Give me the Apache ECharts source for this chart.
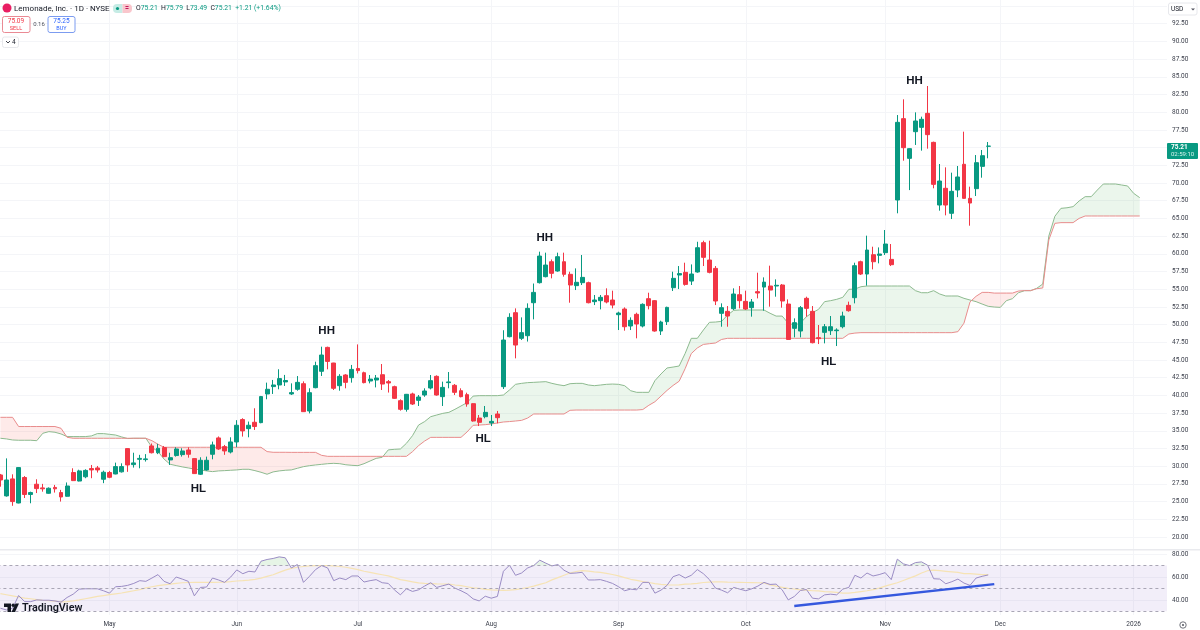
<!DOCTYPE html>
<html>
<head>
<meta charset="utf-8">
<title>Lemonade, Inc.</title>
<script src="https://cdn.jsdelivr.net/npm/echarts@6/dist/echarts.min.js"></script>
<style>
html, body { margin: 0; padding: 0; background: #fff; }
#Chart { width: 1200px; height: 630px; }
</style>
</head>
<body>
<div id="Chart"></div>
<script>
var monthStart = [18, 39, 59, 81, 102, 123, 146, 165, 187];
var monthLabels = ['May', 'Jun', 'Jul', 'Aug', 'Sep', 'Oct', 'Nov', 'Dec', '2026'];

var priceTicks = [20, 22.5, 25, 27.5, 30, 32.5, 35, 37.5, 40, 42.5, 45, 47.5, 50, 52.5, 55, 57.5, 60, 62.5, 65, 67.5, 70, 72.5, 75, 77.5, 80, 82.5, 85, 87.5, 90, 92.5, 95];
var priceLabels = [20, 22.5, 25, 27.5, 30, 32.5, 35, 37.5, 40, 42.5, 45, 47.5, 50, 52.5, 55, 57.5, 60, 62.5, 65, 67.5, 70, 72.5, 77.5, 80, 82.5, 85, 87.5, 90, 92.5];
var rsiTicks = [40, 60, 80];
var rsiLevels = [70, 50, 30];

var opens = [
    28.76, 25.8, 28.2, 24.8, 28.4, 26, 27.45, 26.93, 26.17, 27,
    26.27, 25.75, 29.1, 27.9, 28.5, 29.66, 29.75, 28.15, 29.1, 28.9,
    29.2, 32.48, 30.22, 30.97, 30.93, 32.86, 31.9, 32.62, 30.88, 31.5,
    31.63, 32.29, 31.07, 28.86, 29.47, 31.68, 33.99, 32.76, 32, 33.42,
    36.58, 35.3, 36.2, 36.15, 40.2, 41.24, 41.47, 41.9, 40.2, 40.86,
    41.65, 37.8, 41.09, 43.4, 46.78, 44.57, 41.37, 42.88, 42.5, 43.8,
    43.2, 42.03, 42.17, 42.92, 41.94, 41.23, 39.25, 38.03, 40.2, 39.3,
    40.05, 41.04, 42.69, 39.82, 41.8, 41.42, 40.66, 40.1, 38.83, 36.8,
    36.99, 36.1, 37.37, 41.23, 48.29, 51.68, 48.06, 48.43, 53.09, 55.92,
    56.77, 58.88, 57.57, 58.88, 57.1, 55.5, 55.92, 55.92, 53.24, 53.38,
    54.08, 53.47, 51.4, 52.2, 49.8, 51.45, 49.8, 53.66, 53.38, 49.09,
    50.41, 55.21, 57, 57.38, 56.15, 57.43, 61.57, 59.12, 57.94, 51.59,
    51.87, 52.24, 54.22, 53.28, 52.39, 54.65, 55.3, 55.45, 55.45, 55.59,
    52.9, 49.47, 49.09, 53.71, 51.87, 48.15, 48.9, 49.14, 49.14, 49.7,
    52.72, 53.8, 58.88, 57.14, 59.87, 59.78, 60.16, 59.21, 67.6, 79.09,
    73.48, 77.25, 77.86, 79.84, 75.74, 66.89, 69.25, 65.72, 69.01, 72.64,
    67.83, 69.2, 72.35, 75.19
];
var closes = [
    28.05, 28.05, 25, 29.8, 26, 26.27, 26.83, 26.8, 26.88, 26.8,
    25.65, 27.2, 27.96, 29.33, 29.4, 29.47, 29.47, 29.14, 28.43, 29.94,
    29.94, 30.17, 30.46, 31.1, 31.03, 31.9, 32.53, 31.35, 31.2, 32.43,
    32.15, 31.68, 28.95, 30.83, 30.83, 33, 32.43, 32.15, 33.42, 35.78,
    34.98, 35.78, 35.6, 39.83, 40.86, 41.47, 42.37, 42.1, 40.39, 41.84,
    37.7, 40.38, 44.2, 45.7, 44.8, 41, 42.69, 41.84, 43.67, 43.5,
    41.8, 42.3, 42.45, 41.6, 41.75, 39.58, 38.03, 40.15, 38.78, 39.77,
    40.62, 42.08, 40.05, 41.13, 41.9, 40.43, 39.82, 38.78, 36.38, 36.19,
    37.6, 36.33, 36.85, 47.82, 51.02, 47.11, 48.86, 52.29, 54.55, 59.68,
    58.41, 57.24, 59.59, 57.1, 55.59, 55.97, 56.67, 53.09, 53.47, 53.85,
    53.19, 52.76, 51.63, 49.7, 50.6, 50.08, 52.86, 52.67, 49.09, 50.36,
    52.43, 56.53, 57.2, 55.68, 57.14, 60.86, 59.5, 57.38, 53.33, 52.39,
    51.21, 54.32, 53.38, 52.2, 53.19, 54.46, 56, 54.88, 55.55, 53.33,
    47.9, 50.27, 52.39, 52.29, 47.44, 48.01, 49.7, 49.7, 49.23, 51.21,
    51.96, 58.32, 57.14, 60.53, 58.88, 59.97, 61.38, 58.46, 78.57, 74.99,
    74.85, 78.76, 79, 76.83, 69.81, 70.28, 66.89, 68.82, 70.85, 67.83,
    67.17, 72.87, 73.86, 75.21
];
var lows = [
    27.1, 25.7, 24.4, 24.75, 25.5, 24.76, 26.2, 26.4, 26.1, 26.27,
    25, 25.7, 27.9, 27.85, 28.3, 28.3, 29.1, 27.6, 28.3, 28.85,
    29.1, 29.2, 29.8, 29.7, 30.65, 31.8, 31.7, 31.26, 30.17, 31.35,
    31.35, 31.2, 28.9, 28.76, 29.37, 30.97, 32.3, 31.6, 31.8, 32.67,
    34.18, 34.08, 35.12, 36.06, 39.45, 40.2, 40.86, 41.33, 40.06, 40.66,
    37.65, 37.46, 41, 42.74, 43.68, 40.76, 40.66, 41, 41.8, 43.1,
    41.7, 41.7, 41.13, 40.76, 40.4, 39.5, 37.84, 37.7, 38.64, 38.5,
    39.8, 40.85, 39.96, 38.5, 41, 40.05, 39.72, 38.4, 36.29, 35.67,
    36.76, 35.67, 36.05, 40.9, 48.2, 45.23, 47.82, 47.6, 50.74, 55.8,
    56.67, 56.53, 57.47, 56.77, 53.09, 54.88, 55.59, 53, 52.76, 52.15,
    53, 52.29, 49.23, 49.14, 49.23, 48.06, 49.6, 52.15, 49, 48.53,
    49.94, 54.74, 55.02, 55.5, 55.59, 57.33, 58.27, 57.24, 52.76, 49.7,
    49.7, 52.06, 52.29, 52.06, 51.12, 53.7, 51.96, 52.53, 53.94, 52.39,
    47.85, 48.2, 48.2, 51.12, 47.35, 47.25, 47.35, 48.53, 46.97, 49.47,
    51.82, 53, 57, 55.5, 57.8, 58.65, 59.83, 58.27, 65.72, 73.15,
    69, 75.37, 74.57, 74.85, 69.25, 66.09, 65.43, 64.91, 68, 67.8,
    63.97, 68.16, 70.75, 73.49
];
var highs = [
    28.9, 31.1, 28.85, 29.85, 28.6, 26.4, 28.15, 27.5, 27, 27.35,
    26.65, 27.7, 29.7, 29.5, 29.56, 30.17, 30.03, 29.37, 29.33, 30.5,
    30.4, 32.5, 31.9, 31.6, 31.7, 33.2, 33.15, 32.85, 31.9, 32.67,
    32.53, 32.67, 31.1, 31.26, 31.35, 33.47, 34.2, 33, 34.08, 36.5,
    36.77, 36.3, 38.18, 39.92, 41.8, 42.18, 43.69, 42.89, 41.7, 42.73,
    41.98, 41, 44.76, 46.88, 46.88, 44.6, 43, 43, 44.3, 47.2,
    43.35, 42.88, 42.88, 44.43, 42.17, 41.37, 39.44, 40.2, 40.38, 40.05,
    41, 42.88, 42.83, 41.94, 43.3, 41.6, 41, 40.38, 38.88, 37.23,
    38.5, 37.23, 37.8, 49.2, 51.6, 52.29, 51.02, 53, 55.8, 60.3,
    60.16, 59.2, 60.16, 60.16, 57.47, 57.94, 59.83, 56.06, 54.18, 54.18,
    55.12, 54.79, 51.82, 52.43, 51.02, 51.68, 53, 54.5, 53.47, 50.55,
    52.53, 57.47, 58.27, 58.74, 58.5, 61.7, 61.85, 61.85, 58.27, 53,
    52.62, 55.12, 55.45, 54.79, 53.61, 57.33, 56.67, 58.32, 56.39, 55.73,
    53.56, 50.88, 52.62, 53.94, 52.62, 49.94, 50.08, 51.21, 49.47, 51.82,
    53.24, 58.74, 59.03, 62.56, 61, 60.9, 63.36, 61.38, 79.6, 81.82,
    74.9, 79.98, 79.37, 83.7, 75.84, 72.68, 72.21, 71.46, 72.4, 77.25,
    69.48, 73.95, 74.66, 75.79
];

// leading spans run 25 bars past the last candle
var spanA = [
    33.94, 33.85, 33.7, 33.66, 33.66, 33.66, 33.6, 34.65, 34.88, 34.79,
    34.55, 34.18, 34.18, 34.18, 34.18, 34.27, 34.6, 34.6, 34.5, 34.4,
    34.13, 33.9, 33.94, 33.94, 33.94, 32.67, 32.06, 31, 30.27, 30.08,
    29.9, 29.75, 29.6, 29.47, 29.33, 29.23, 29.33, 29.37, 29.42, 29.47,
    29.56, 29.56, 29.37, 29.14, 28.86, 29.19, 29.33, 29.42, 29.47, 29.7,
    29.93, 30.07, 30.17, 30.26, 30.35, 30.4, 30.35, 30.2, 30.12, 30.07,
    30.35, 30.73, 31.1, 31.25, 32.3, 32.38, 32.43, 33.23, 34.31, 35.81,
    36.3, 36.99, 37.23, 37.46, 37.6, 38.03, 38.5, 38.97, 39.9, 39.96,
    39.96, 39.96, 39.96, 40.05, 40.76, 41.56, 41.7, 41.8, 41.84, 41.89,
    41.94, 41.7, 41.51, 41.37, 41.65, 41.7, 41.7, 41.47, 41.37, 41.46,
    41.56, 41.6, 41.56, 41.37, 40.66, 40.43, 40.43, 40.43, 42.08, 43.02,
    43.87, 44, 44.15, 45.94, 48.06, 48.06, 49.23, 50.32, 50.36, 50.46,
    51.35, 52.01, 52.06, 52.06, 52.06, 52.06, 52.06, 51.6, 51.2, 51.2,
    50.2, 49.94, 50.2, 51.12, 51.68, 52.15, 53.24, 53.38, 53.57, 53.85,
    54.98, 55.02, 55.35, 55.45, 55.45, 55.45, 55.45, 55.45, 55.45, 55.45,
    55.45, 54.79, 54.5, 54.5, 54.79, 54.32, 54.04, 54.04, 54.04, 53.71,
    53.47, 53.24, 52.9, 52.58, 52.48, 52.43, 53.38, 53.66, 54.5, 54.79,
    54.79, 55.12, 55.73, 62.5, 65.3, 66.42, 66.5, 66.66, 67.46, 68.07,
    68.07, 69, 69.86, 69.86, 69.86, 69.72, 69.58, 68.54, 67.93
];
var spanB = [
    36.9, 36.9, 36.9, 35.6, 35.6, 35.6, 35.6, 35.6, 35.6, 35.6,
    35.35, 34.08, 33.94, 33.94, 33.94, 33.94, 33.94, 33.94, 33.94, 33.94,
    33.94, 33.94, 33.94, 33.94, 33.94, 33.6, 33.1, 32.67, 32.67, 32.67,
    32.67, 32.67, 32.67, 32.67, 32.67, 32.67, 32.67, 32.67, 32.67, 32.67,
    32.67, 32.67, 32.67, 32.67, 32.06, 31.96, 31.96, 31.96, 31.95, 31.95,
    31.95, 31.95, 31.95, 31.53, 31.39, 31.39, 31.39, 31.39, 31.39, 31.39,
    31.39, 31.39, 31.39, 31.39, 31.39, 31.39, 31.39, 31.39, 32.05, 32.9,
    33.55, 34.07, 34.07, 34.07, 34.07, 34.07, 34.07, 34.83, 35.77, 35.81,
    35.86, 35.96, 36.1, 36.24, 36.3, 36.38, 36.47, 36.8, 37.37, 37.37,
    37.37, 37.37, 37.37, 37.37, 37.89, 37.93, 37.93, 37.93, 37.93, 37.93,
    37.93, 37.93, 37.93, 37.93, 37.93, 37.93, 38, 38.6, 39.1, 39.9,
    40.7, 41.4, 42, 43.8, 45.9, 46.7, 47.2, 47.3, 47.4, 47.9,
    48.06, 48.06, 48.06, 48.06, 48.06, 48.06, 48.06, 48.06, 48.06, 48.06,
    48.06, 48.06, 48.06, 48.06, 48.06, 48.06, 48.06, 48.06, 48.06, 48.06,
    48.67, 48.8, 48.86, 48.86, 48.86, 48.86, 48.86, 48.86, 48.86, 48.86,
    48.86, 48.86, 48.86, 48.86, 48.86, 48.86, 48.86, 48.86, 49, 50.2,
    53.2, 54, 54.55, 54.55, 54.45, 54.45, 54.45, 54.45, 54.74, 54.8,
    54.8, 55.07, 55.17, 61.95, 64.3, 64.4, 64.4, 64.4, 65, 65.34,
    65.34, 65.34, 65.34, 65.34, 65.34, 65.34, 65.34, 65.34, 65.34
];

var rsi = [
    32.7, 31.2, 32.7, 43.8, 38.5, 38.5, 40, 39.7, 39.7, 39.1,
    38, 42.1, 45, 49.4, 49.7, 49.7, 49.7, 48, 45.9, 51.5,
    51.8, 52.7, 54.4, 56.8, 56.2, 59.1, 62.1, 56.2, 54.1, 60,
    58.2, 56.2, 43.5, 50.9, 51.2, 59.1, 57.4, 55.3, 60, 66.2,
    62.9, 65, 64.4, 73.8, 75.3, 76.2, 77.6, 76.8, 67.9, 70.9,
    55.3, 60.6, 66.5, 70, 67.9, 56.8, 59.1, 57.7, 60.9, 60.9,
    55.6, 56.8, 57.7, 55, 54.4, 48.8, 44.4, 49.7, 47.4, 48.8,
    52.1, 55, 50.9, 52.4, 53.8, 50.3, 48, 45.3, 40.9, 39.1,
    43.2, 41.5, 43, 65, 70.3, 61.5, 63.5, 67.9, 70, 74.7,
    72.1, 69.7, 70.9, 65.9, 63.2, 63.5, 64.1, 57.4, 57.4, 57.7,
    56.2, 54.4, 51.5, 48, 49.4, 48.8, 55.3, 55.3, 45.9, 48.5,
    52.7, 60.3, 62.1, 59.1, 61.5, 66.5, 62.9, 57.7, 50.3, 48.5,
    46.2, 50.9, 49.4, 48, 49.7, 52.1, 55.3, 53.5, 53.8, 48.8,
    40, 43, 48.2, 49.1, 41.5, 40.9, 44.4, 45, 44.4, 49.4,
    50.9, 61.5, 59.1, 63.5, 60.9, 62.1, 63.8, 57.7, 75.6, 71.5,
    70, 72.6, 73.2, 70.3, 58.5, 58.2, 54.1, 55.9, 58.2, 54.7,
    52.7, 59.1, 60.6, 61.8
];
var rsiMa = [
    45.5, 44.5, 43.5, 42.5, 41.5, 41, 40.2, 39.7, 39.3, 38.9,
    38.2, 38.5, 39.2, 40, 41, 42, 43, 43.8, 44.6, 45.3,
    46, 47, 48, 49, 50.5, 51.5, 52.5, 53.2, 53.7, 54.5,
    55, 55.2, 55.3, 55.3, 55.3, 55.3, 55.4, 55.6, 56, 56.5,
    56.8, 57.2, 58, 59, 60.5, 62, 64, 66, 67.5, 68.5,
    69.2, 69.8, 70, 70, 70, 69.8, 69.2, 68.5, 67.5, 66.5,
    65, 64, 63, 62, 61, 59.5, 57.7, 56.8, 55.8, 54.8,
    54.4, 54.2, 54, 53.9, 53.7, 53, 52.5, 51.5, 50.5, 50,
    49.2, 48.8, 48.5, 48.4, 48.5, 49, 49.8, 50.8, 52, 53.5,
    55, 57.5, 59.5, 61.5, 63.5, 64.8, 65.5, 65.2, 64.5, 64,
    63.2, 62.2, 61, 59.5, 58, 57, 56, 55.2, 54.2, 53.6,
    53.2, 53, 53.2, 53.8, 54, 54.5, 55.2, 55.6, 55.8, 55.8,
    55.5, 55.4, 55.3, 55.2, 55.1, 55, 54.9, 53, 52, 51,
    50, 49.5, 48.8, 48.5, 48, 47.8, 47.3, 47, 46.5, 46,
    45.9, 46.5, 47.3, 48, 49, 50.3, 52, 53.5, 55, 57,
    59, 61, 63.5, 65.5, 66, 65.5, 65, 64.5, 64, 63,
    63, 62.5, 62, 62
];

// drawn notes on the price pane: [bar, price]
var noteLabels = ['HH', 'HH', 'HH', 'HL', 'HL', 'HL'];
var noteBars = [54, 90, 151, 33, 80, 137];
var notePrices = [49.24, 62.37, 84.55, 26.9, 33.98, 44.86];
// blue trend line on the RSI pane
var trendBars = [131, 164];
var trendValues = [34.7, 53.8];

var barCount = 193;
var up = '#089981';
var down = '#f23645';
var gridColor = '#f4f5f8';
var axisText = '#3a3e4a';
var fontName = 'Roboto, "Liberation Sans", sans-serif';

var categories = [];
for (var i = 0; i < barCount; i++) {
    var m = monthStart.indexOf(i);
    categories.push(m < 0 ? 'd' + i : monthLabels[m]);
}
var isMonthStart = function (index) {
    return monthStart.indexOf(index) >= 0;
};

var candles = opens.map(function (o, k) {
    return [o, closes[k], lows[k], highs[k]];
});

// cut two lines into runs, one polygon for every run so no seams show
var makeRuns = function (a, b) {
    var runs = [], from = 0;
    for (var k = 1; k <= a.length; k++) {
        if (k === a.length || (a[k] >= b[k]) !== (a[from] >= b[from])) {
            runs.push([from, k - 1, a[from] >= b[from] ? 1 : 0]);
            from = k;
        }
    }
    return runs;
};

var fillBetween = function (a, b, colorAbove, colorBelow) {
    return function (params, api) {
        var from = api.value(0), to = api.value(1);
        var color = api.value(2) ? colorAbove : colorBelow;
        if (!color) {
            return null;
        }
        var cross = function (k) {
            var d0 = a[k] - b[k], d1 = a[k + 1] - b[k + 1];
            var t = d0 / (d0 - d1);
            var p0 = api.coord([k, a[k]]), p1 = api.coord([k + 1, a[k + 1]]);
            return [p0[0] + (p1[0] - p0[0]) * t, p0[1] + (p1[1] - p0[1]) * t];
        };
        var top = [], bottom = [];
        for (var k = from; k <= to; k++) {
            top.push(api.coord([k, a[k]]));
            bottom.unshift(api.coord([k, b[k]]));
        }
        if (from > 0) {
            top.unshift(cross(from - 1));
        }
        if (to < a.length - 1) {
            top.push(cross(to));
        }
        return {
            type: 'polygon',
            shape: { points: top.concat(bottom) },
            style: { fill: color, stroke: null }
        };
    };
};

var rsi70 = rsi.map(function () { return rsiLevels[0]; });

var headerText = function (x, y, text, color, size, weight, align) {
    return {
        type: 'text', x: x, y: y, z: 100,
        style: {
            text: text, fill: color, fontFamily: fontName, fontSize: size,
            fontWeight: weight || 'normal', align: align || 'left', verticalAlign: 'middle'
        }
    };
};
var headerBox = function (x, y, w, h, stroke, fill, r) {
    return {
        type: 'rect', x: x, y: y, z: 99,
        shape: { width: w, height: h, r: r || 2 },
        style: { stroke: stroke, fill: fill || '#fff', lineWidth: 1 }
    };
};

var myChart = echarts.init(document.getElementById('Chart'));
var option = {
    animation: false,
    backgroundColor: '#fff',
    textStyle: { fontFamily: fontName },
    grid: [
        { left: -2.6, top: 0, width: barCount * 6.06, height: 549, outerBoundsMode: 'none' },
        { left: -2.6, top: 550, width: barCount * 6.06, height: 65, outerBoundsMode: 'none' }
    ],
    xAxis: [
        {
            type: 'category', gridIndex: 0, data: categories,
            axisLine: { show: false }, axisTick: { show: false }, axisLabel: { show: false },
            splitLine: { show: true, alignWithLabel: true, interval: isMonthStart, lineStyle: { color: gridColor, width: 1 } }
        },
        {
            type: 'category', gridIndex: 1, data: categories,
            axisLine: { show: false }, axisTick: { show: false },
            axisLabel: { show: true, interval: isMonthStart, color: axisText, fontSize: 6.5, margin: 6, hideOverlap: false },
            splitLine: { show: true, alignWithLabel: true, interval: isMonthStart, lineStyle: { color: gridColor, width: 1 } }
        }
    ],
    yAxis: [
        {
            type: 'value', gridIndex: 0, position: 'right', min: 18.3, max: 95.85,
            axisLine: { show: false },
            axisTick: { show: false, customValues: priceTicks },
            axisLabel: {
                customValues: priceLabels, color: axisText, fontSize: 6.5, margin: 5,
                formatter: function (v) { return v.toFixed(2); }
            },
            splitLine: { show: true, lineStyle: { color: gridColor, width: 1 } }
        },
        {
            type: 'value', gridIndex: 1, position: 'right', min: 26.8, max: 83.6,
            axisLine: { show: false },
            axisTick: { show: false, customValues: rsiTicks },
            axisLabel: {
                customValues: rsiTicks, color: axisText, fontSize: 6.5, margin: 5,
                formatter: function (v) { return v.toFixed(2); }
            },
            splitLine: { show: true, lineStyle: { color: gridColor, width: 1 } }
        }
    ],
    series: [
        {
            type: 'custom', name: 'Cloud', xAxisIndex: 0, yAxisIndex: 0, silent: true, z: 1,
            renderItem: fillBetween(spanA, spanB, 'rgba(76,175,80,.11)', 'rgba(244,67,54,.11)'),
            data: makeRuns(spanA, spanB),
            encode: { x: 0, y: 2 }
        },
        {
            type: 'line', name: 'Leading Span A', xAxisIndex: 0, yAxisIndex: 0, data: spanA, z: 2,
            symbol: 'none', lineStyle: { color: '#8dba8f', width: 1 }
        },
        {
            type: 'line', name: 'Leading Span B', xAxisIndex: 0, yAxisIndex: 0, data: spanB, z: 2,
            symbol: 'none', lineStyle: { color: '#e88c8c', width: 1 }
        },
        {
            type: 'candlestick', name: 'LMND', xAxisIndex: 0, yAxisIndex: 0, data: candles, z: 3,
            barWidth: 4.4,
            itemStyle: { color: up, color0: down, borderColor: up, borderColor0: down, borderWidth: 1 },
            markPoint: {
                symbol: 'circle', symbolSize: 0, silent: true,
                label: { show: true, color: '#131722', fontSize: 11.5, fontWeight: 'bold', position: 'inside', fontFamily: '"Liberation Sans", sans-serif' },
                data: noteLabels.map(function (t, k) {
                    return { coord: [noteBars[k], notePrices[k]], value: t, label: { formatter: t, offset: [k > 2 ? -2 : -1, 1] } };
                })
            }
        },
        {
            type: 'custom', name: 'RSI overbought', xAxisIndex: 1, yAxisIndex: 1, silent: true, z: 2,
            renderItem: fillBetween(rsi, rsi70, 'rgba(76,175,80,.14)', null),
            data: makeRuns(rsi, rsi70),
            encode: { x: 0, y: 2 }
        },
        {
            type: 'line', name: 'RSI MA', xAxisIndex: 1, yAxisIndex: 1, data: rsiMa, z: 3,
            symbol: 'none', lineStyle: { color: '#f6e3b4', width: 1.2 }
        },
        {
            type: 'line', name: 'RSI', xAxisIndex: 1, yAxisIndex: 1, data: rsi, z: 4,
            symbol: 'none', lineStyle: { color: '#9a8cc4', width: 1 },
            markArea: {
                silent: true,
                itemStyle: { color: 'rgba(126,87,194,.1)' },
                data: [[{ yAxis: rsiLevels[0] }, { yAxis: rsiLevels[2] }]]
            },
            markLine: {
                silent: true, symbol: 'none', label: { show: false },
                data: rsiLevels.map(function (v) {
                    return { yAxis: v, lineStyle: { color: '#a9a6b5', type: [3, 3], width: 1 } };
                }).concat([[
                    { coord: [trendBars[0], trendValues[0]], lineStyle: { color: '#3558de', type: 'solid', width: 2.4 } },
                    { coord: [trendBars[1], trendValues[1]] }
                ]])
            }
        }
    ],
    graphic: [
        // symbol line
        { type: 'circle', x: 7, y: 8, z: 99, shape: { r: 4.5 }, style: { fill: '#e91e63' } },
        headerText(14, 8.5, 'Lemonade, Inc. · 1D · NYSE', '#131722', 8),
        { type: 'rect', x: 113, y: 4, z: 99, shape: { width: 9.5, height: 9, r: [4, 0, 0, 4] }, style: { fill: '#c6ece5' } },
        { type: 'circle', x: 117.5, y: 8.5, z: 100, shape: { r: 1.6 }, style: { fill: up } },
        { type: 'rect', x: 122.5, y: 4, z: 99, shape: { width: 9.5, height: 9, r: [0, 4, 4, 0] }, style: { fill: '#f9c6cc' } },
        headerText(127, 8.5, '=', '#c2185b', 7, 'bold', 'center'),
        {
            type: 'text', x: 136, y: 8.5, z: 100,
            style: {
                rich: { k: { fill: '#131722', fontSize: 6.8, fontFamily: fontName }, v: { fill: up, fontSize: 6.8, fontFamily: fontName } },
                text: '{k|O}{v|75.21} {k|H}{v|75.79} {k|L}{v|73.49} {k|C}{v|75.21} {v|+1.21 (+1.64%)}',
                verticalAlign: 'middle'
            }
        },
        // sell and buy boxes
        headerBox(2.5, 16.5, 27.5, 16, '#ea8a94'),
        headerText(16, 21, '75.09', down, 6.5, 'normal', 'center'),
        headerText(16, 28.5, 'SELL', down, 5.5, 'normal', 'center'),
        headerText(39, 24.5, '0.16', '#50535e', 6, 'normal', 'center'),
        headerBox(48, 16.5, 27, 16, '#7c9cf0'),
        headerText(61.5, 21, '75.25', '#2962ff', 6.5, 'normal', 'center'),
        headerText(61.5, 28.5, 'BUY', '#2962ff', 5.5, 'normal', 'center'),
        headerBox(2.5, 37, 16, 10.5, '#e7e8ec'),
        { type: 'polyline', x: 0, y: 0, z: 100, shape: { points: [[6, 41], [8, 43], [10, 41]] }, style: { stroke: '#131722', fill: null, lineWidth: 0.8 } },
        headerText(12, 42.5, '4', '#131722', 6.5),
        // currency box
        headerBox(1168.5, 3, 28.5, 12, '#e7e8ec'),
        headerText(1171, 9.5, 'USD', '#131722', 6.5),
        { type: 'polygon', x: 0, y: 0, z: 100, shape: { points: [[1191, 8.5], [1195, 8.5], [1193, 10.5]] }, style: { fill: '#50535e' } },
        // last price tag
        { type: 'rect', x: 1167, y: 143, z: 99, shape: { width: 31, height: 16, r: 1 }, style: { fill: up } },
        headerText(1171, 147.5, '75.21', '#fff', 6.5, 'bold'),
        headerText(1171, 154.5, '02:59:10', '#d8f3ee', 6),
        // TradingView logo
        { type: 'polygon', x: 0, y: 0, z: 100, shape: { points: [[4, 603.5], [11, 603.5], [11, 612], [7.5, 612], [7.5, 607], [4, 607]] }, style: { fill: '#131722' } },
        { type: 'circle', x: 13.2, y: 605.2, z: 100, shape: { r: 1.7 }, style: { fill: '#131722' } },
        { type: 'polygon', x: 0, y: 0, z: 100, shape: { points: [[15.5, 603.5], [19, 603.5], [15, 612], [11.5, 612]] }, style: { fill: '#131722' } },
        headerText(22, 608, 'TradingView', '#131722', 10.8, '600'),
        // pane divider and settings button
        { type: 'rect', x: 0, y: 549, z: 90, shape: { width: 1200, height: 1.5 }, style: { fill: '#e9eaee' } },
        { type: 'circle', x: 1183, y: 625, z: 100, shape: { r: 3.2 }, style: { fill: null, stroke: '#50535e', lineWidth: 0.8 } },
        { type: 'circle', x: 1183, y: 625, z: 100, shape: { r: 1 }, style: { fill: '#50535e' } }
    ]
};
myChart.setOption(option);
</script>
</body>
</html>
